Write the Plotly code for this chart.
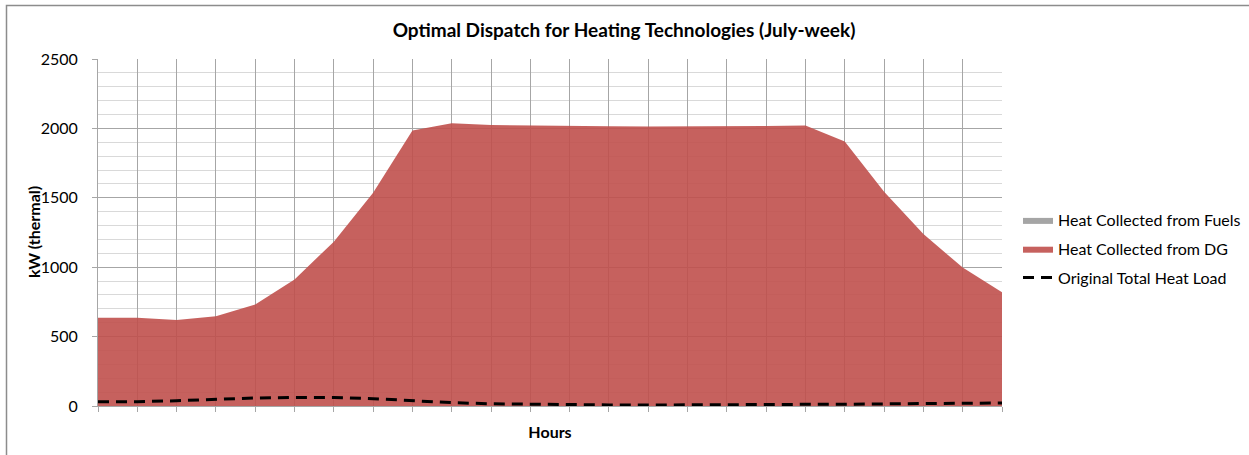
import plotly.graph_objects as go

hours = list(range(1, 25))
heat_fuels = [0] * 24
heat_dg = [636, 635, 620, 646, 732, 912, 1184, 1537, 1985, 2037, 2025, 2020, 2018, 2015,
           2013, 2013, 2015, 2018, 2020, 1905, 1544, 1239, 997, 819]
total_load = [31, 31, 38, 48, 58, 62, 62, 53, 38, 24, 16, 12, 10, 8, 7, 7, 7, 9, 12, 13,
              15, 17, 20, 22]

FONT = "Lato"
fig = go.Figure()
fig.add_trace(go.Scatter(
    x=hours, y=heat_fuels, name="Heat Collected from Fuels", stackgroup="s",
    legendgroup="a", mode="lines", line=dict(width=0, color="#a5a5a5"),
    fillcolor="rgba(165,165,165,1)"))
fig.add_trace(go.Scatter(
    x=hours, y=heat_dg, name="Heat Collected from DG", stackgroup="s",
    legendgroup="b", mode="lines", line=dict(width=0, color="#c0504d"),
    fillcolor="rgba(192,80,77,0.9)"))
fig.add_trace(go.Scatter(
    x=hours, y=total_load, name="Original Total Heat Load", mode="lines",
    legendgroup="c", line=dict(color="black", width=3, dash="11px,7px")))

W, H = 1249, 455
L, R, T, B = 98, 247, 59, 49
pw, ph = W - L - R, H - T - B

fig.update_layout(
    width=W, height=H,
    margin=dict(l=L, r=R, t=T, b=B, autoexpand=False),
    paper_bgcolor="white", plot_bgcolor="white",
    font=dict(family=FONT, size=16, color="#000"),
    title=dict(text="<b>Optimal Dispatch for Heating Technologies (July-week)</b>",
               x=624 / W, xanchor="center", y=1 - 30 / H, yanchor="middle",
               font=dict(family=FONT, size=19)),
    showlegend=True,
    legend=dict(x=(1022 - 4 - L) / pw, xanchor="left", y=(406 - 249) / ph, yanchor="middle",
                font=dict(family=FONT, size=16), itemwidth=30, tracegroupgap=5,
                bgcolor="rgba(0,0,0,0)", traceorder="grouped"),
    xaxis=dict(range=[1, 24], dtick=1, tick0=1, showticklabels=False,
               showgrid=True, gridcolor="#a6a6a6", gridwidth=1,
               ticks="outside", ticklen=5, tickcolor="#a6a6a6",
               showline=True, linecolor="#a6a6a6", zeroline=False,
               title=dict(text="<b>Hours</b>", standoff=15, font=dict(size=16))),
    yaxis=dict(range=[0, 2500], dtick=500, tick0=0,
               showgrid=True, gridcolor="#a6a6a6", gridwidth=1,
               minor=dict(dtick=100, showgrid=True, gridcolor="#d9d9d9", gridwidth=1),
               ticks="outside", ticklen=5, tickcolor="#a6a6a6",
               ticklabelstandoff=11,
               showline=True, linecolor="#a6a6a6", zeroline=False),
    annotations=[dict(text="<b>kW (thermal)</b>", xref="paper", yref="paper",
                      x=(33.5 - L) / pw, y=0.5, xanchor="center", yanchor="middle",
                      textangle=-90, showarrow=False, font=dict(family=FONT, size=16))],
    shapes=[dict(type="rect", xref="paper", yref="paper",
                 x0=(6.5 - L) / pw, x1=1.5, y0=-0.5, y1=(406 - 5.5) / ph,
                 line=dict(color="#8c8c8c", width=1.5), layer="below")],
)
fig.write_html("out.html", config={"displayModeBar": False},
               post_script="document.body.style.margin='0';")
